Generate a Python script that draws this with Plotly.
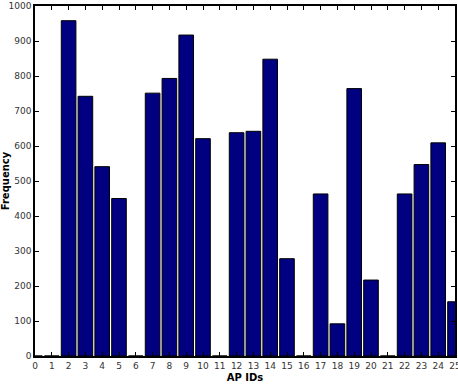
import plotly.graph_objects as go

ap_ids = list(range(0, 26))
frequency = [0, 0, 958, 742, 541, 450, 0, 751, 793, 917, 621, 0, 638, 642, 848, 278,
             0, 463, 92, 764, 217, 0, 463, 547, 609, 155]

fig = go.Figure()
fig.add_trace(go.Bar(
    x=ap_ids, y=frequency, width=0.87,
    marker=dict(color="#000080", line=dict(color="#000000", width=1)),
))

axis_common = dict(
    showgrid=False, zeroline=False, ticks="inside", ticklen=4, tickwidth=1,
    tickcolor="black", showline=True, linecolor="black", linewidth=1.5,
    mirror="ticks", ticklabeloverflow="allow", automargin=False,
    tickfont=dict(family="DejaVu Sans", size=9, color="#333"),
)

fig.update_layout(
    width=458, height=386,
    margin=dict(l=35, r=3, t=6, b=30),
    plot_bgcolor="white", paper_bgcolor="white",
    showlegend=False,
    xaxis=dict(range=[0, 25], tickmode="array", tickvals=ap_ids,
               title=dict(text="<b>AP IDs</b>", font=dict(family="DejaVu Sans", size=10, color="black"), standoff=4),
               **axis_common),
    yaxis=dict(range=[0, 1000], tickmode="linear", tick0=0, dtick=100,
               title=dict(text="<b>Frequency</b>", font=dict(family="DejaVu Sans", size=10, color="black"), standoff=2),
               **axis_common),
)

fig.write_html("out.html")
